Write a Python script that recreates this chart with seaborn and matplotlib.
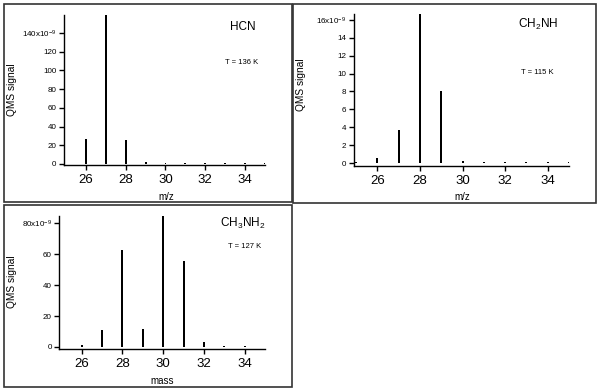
#!/usr/bin/env python3

from matplotlib import pyplot as plt
from matplotlib.patches import Rectangle
import seaborn as sns

# QMS mass spectra (signal in units of 1e-9)
mass = [25, 26, 27, 28, 29, 30, 31, 32, 33, 34, 35]
hcn = [0.0, 26.7, 159.0, 25.6, 1.8, 0.9, 0.7, 0.9, 0.7, 0.9, 0.7]
ch2nh = [0.1, 0.56, 3.72, 16.6, 8.1, 0.2, 0.1, 0.1, 0.1, 0.1, 0.1]
ch3nh2 = [0.0, 1.3, 11.0, 62.7, 11.6, 84.7, 55.6, 3.4, 0.6, 0.6, 0.0]

names = ["HCN", "CH$_2$NH", "CH$_3$NH$_2$"]
temps = ["T = 136 K", "T = 115 K", "T = 127 K"]
yticks_list = [[0, 20, 40, 60, 80, 100, 120, 140],
               [0, 2, 4, 6, 8, 10, 12, 14, 16],
               [0, 20, 40, 60, 80]]
xticks = [26, 28, 30, 32, 34]
xlabels = ["m/z", "m/z", "mass"]

plt.rcParams["font.family"] = ["Liberation Sans", "DejaVu Sans"]
plt.rcParams["mathtext.fontset"] = "custom"
plt.rcParams["mathtext.rm"] = "Liberation Sans"
plt.rcParams["mathtext.it"] = "Liberation Sans"

W, H = 600, 389
fig = plt.figure(figsize=(6, 3.89), dpi=100)


def fx(px):
    return px / W


def fy(py):
    return 1 - py / H


# panel frames (left, top, right, bottom in pixels)
boxes = [(4, 4, 292, 202), (293, 4, 596, 203), (4, 205, 292, 387)]
for l, t, r, b in boxes:
    fig.add_artist(Rectangle((fx(l), fy(b)), fx(r - l), (b - t) / H,
                             transform=fig.transFigure, fill=False,
                             edgecolor="#333333", linewidth=1.2))

# axes rectangles in pixels: left, top, right, bottom
axes_px = [(64, 15, 265, 165), (354, 14.3, 569, 165.7), (59.3, 216, 265, 348.7)]
ylims = [(-1.1, 159.2), (-0.27, 16.6), (-1.1, 84.7)]
series = [hcn, ch2nh, ch3nh2]
title_pos = [(243, 27), (538, 24), (243, 223)]
temp_pos = [(242, 62), (537, 72), (245, 247)]
ylab_pos = [(12, 90), (301, 85), (12, 282)]
xlab_pos = [(166, 197), (462, 197), (162, 381)]

for i in range(3):
    l, t, r, b = axes_px[i]
    ax = fig.add_axes([fx(l), fy(b), fx(r - l), (b - t) / H])
    sns.barplot(x=mass, y=series[i], native_scale=True, width=0.1,
                color="black", linewidth=0, errorbar=None, ax=ax)
    ax.set_xlim(24.9, 35.0)
    ax.set_ylim(*ylims[i])
    ax.set_xticks(xticks)
    ax.set_xticklabels([str(x) for x in xticks], fontsize=9.5)
    yt = yticks_list[i]
    ax.set_yticks(yt)
    labs = [str(v) for v in yt]
    labs[-1] = str(yt[-1]) + "x10$^{-9}$"
    ax.set_yticklabels(labs, fontsize=5.8)
    ax.tick_params(direction="out", length=3.5, width=1, pad=2)
    ax.tick_params(axis="x", pad=3)
    for s in ["top", "right"]:
        ax.spines[s].set_visible(False)
    for s in ["left", "bottom"]:
        ax.spines[s].set_linewidth(1)
    ax.set_xlabel("")
    ax.set_ylabel("")
    ax.patch.set_alpha(0)

    fig.text(fx(title_pos[i][0]), fy(title_pos[i][1]), names[i],
             ha="center", va="center", fontsize=8.5)
    fig.text(fx(temp_pos[i][0]), fy(temp_pos[i][1]), temps[i],
             ha="center", va="center", fontsize=5.5)
    fig.text(fx(ylab_pos[i][0]), fy(ylab_pos[i][1]), "QMS signal",
             ha="center", va="center", rotation=90, fontsize=7.3)
    fig.text(fx(xlab_pos[i][0]), fy(xlab_pos[i][1]), xlabels[i],
             ha="center", va="center", fontsize=7)

fig.savefig("out.png", dpi=100)
